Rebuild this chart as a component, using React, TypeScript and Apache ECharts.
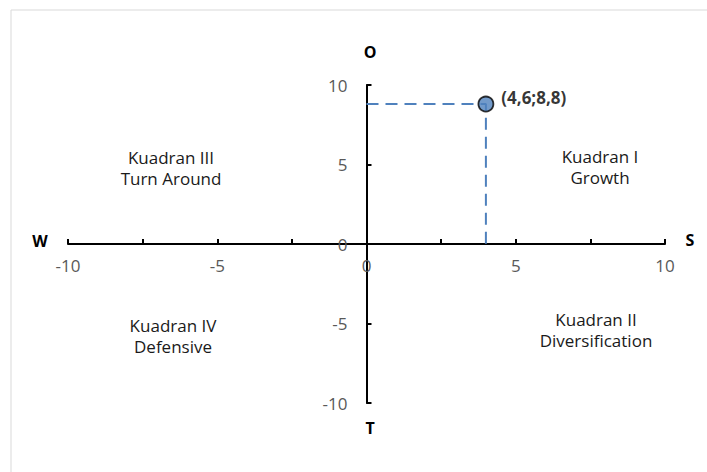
import React, { useEffect, useRef } from "react";
import * as echarts from "echarts";

const xTicks = [-10, -5, 0, 5, 10];
const yTicks = [-10, -5, 0, 5, 10];
const pointX = 4.0;
const pointY = 8.8;
const pointLabel = "(4,6;8,8)";
const axisNames = { left: "W", right: "S", top: "O", bottom: "T" };
const quadrants = [
  { title: "Kuadran III", sub: "Turn Around" },
  { title: "Kuadran I", sub: "Growth" },
  { title: "Kuadran IV", sub: "Defensive" },
  { title: "Kuadran II", sub: "Diversification" },
];

const FONT = "'Open Sans', 'Noto Sans', sans-serif";
const GRID = { left: 68, right: 42, top: 85, bottom: 69 };
const W = 707;
const H = 472;

export default function App() {
  const ref = useRef<HTMLDivElement>(null);
  useEffect(() => {
    if (!ref.current) return;
    const chart = echarts.init(ref.current, null, { renderer: "svg" });
    const gridW = W - GRID.left - GRID.right;
    const gridH = H - GRID.top - GRID.bottom;
    const qPos = [
      [171, 168],
      [600, 167],
      [173, 336],
      [596, 330],
    ];
    const nameStyle = { fontFamily: FONT, fontSize: 16, fontWeight: "bold", fill: "#000" };
    chart.setOption({
      animation: false,
      backgroundColor: "#fff",
      grid: GRID,
      xAxis: {
        type: "value",
        position: "bottom",
        offset: -gridH / 2,
        min: xTicks[0],
        max: xTicks[xTicks.length - 1],
        interval: 2.5,
        splitLine: { show: false },
        axisLine: { onZero: false, lineStyle: { color: "#000", width: 2 } },
        axisTick: { show: true, inside: true, length: 5, lineStyle: { color: "#000", width: 2 } },
        axisLabel: {
          margin: 13,
          color: "#595959",
          fontFamily: FONT,
          fontSize: 17,
          formatter: (v: number) => (xTicks.includes(v) ? String(v) : ""),
        },
      },
      yAxis: {
        type: "value",
        position: "left",
        offset: -gridW / 2,
        min: yTicks[0],
        max: yTicks[yTicks.length - 1],
        interval: 5,
        splitLine: { show: false },
        axisLine: { onZero: false, lineStyle: { color: "#000", width: 2 } },
        axisTick: { show: true, inside: true, length: 5, lineStyle: { color: "#000", width: 2 } },
        axisLabel: {
          margin: 19,
          color: "#595959",
          fontFamily: FONT,
          fontSize: 17,
        },
      },
      series: [
        {
          type: "line",
          data: [
            [0, pointY],
            [pointX, pointY],
            [pointX, 0],
          ],
          symbol: "none",
          lineStyle: { color: "#4F81BD", width: 2, type: [12, 7] },
          z: 2,
        },
        {
          type: "scatter",
          data: [[pointX, pointY]],
          symbol: "circle",
          symbolSize: 15,
          itemStyle: { color: "#4F81BD", borderColor: "#000", borderWidth: 1.8 },
          label: {
            show: true,
            position: "right",
            distance: 7,
            offset: [0, -7],
            formatter: pointLabel,
            fontFamily: FONT,
            fontSize: 17,
            fontWeight: "bold",
            color: "#000",
          },
          z: 3,
        },
      ],
      graphic: [
        {
          type: "rect",
          shape: { x: 11, y: 10, width: 700, height: 470 },
          style: { fill: "none", stroke: "#d9d9d9", lineWidth: 1 },
          silent: true,
        },
        { type: "text", x: 40, y: 241, style: { ...nameStyle, text: axisNames.left, align: "center", verticalAlign: "middle" } },
        { type: "text", x: 690, y: 240, style: { ...nameStyle, text: axisNames.right, align: "center", verticalAlign: "middle" } },
        { type: "text", x: 370, y: 52, style: { ...nameStyle, text: axisNames.top, align: "center", verticalAlign: "middle" } },
        { type: "text", x: 370, y: 428, style: { ...nameStyle, text: axisNames.bottom, align: "center", verticalAlign: "middle" } },
        ...quadrants.map((q, i) => ({
          type: "text",
          x: qPos[i][0],
          y: qPos[i][1],
          style: {
            text: q.title + "\n" + q.sub,
            align: "center",
            verticalAlign: "middle",
            fontFamily: FONT,
            fontSize: 17,
            lineHeight: 21,
            fill: "#1a1a1a",
          },
        })),
      ],
    });
    return () => chart.dispose();
  }, []);
  return (
    <div
      ref={ref}
      style={{ position: "fixed", left: 0, top: 0, width: W, height: H }}
    />
  );
}
